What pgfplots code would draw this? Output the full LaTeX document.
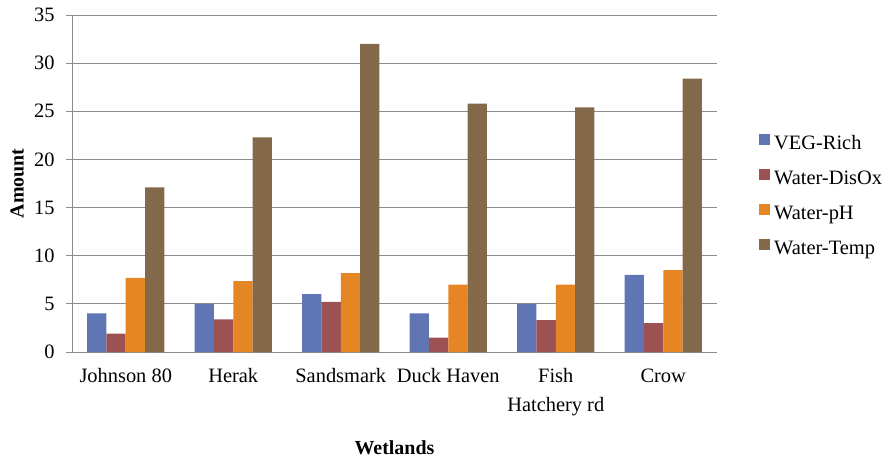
\documentclass[border=0pt]{standalone}
\usepackage{pgfplots}
\pgfplotsset{compat=1.18}
\usepackage{fontspec}
\setmainfont{Liberation Serif}
\definecolor{cveg}{HTML}{6076B4}
\definecolor{cdis}{HTML}{9C5252}
\definecolor{cph}{HTML}{E68523}
\definecolor{ctemp}{HTML}{84684A}
\definecolor{gridc}{RGB}{140,140,140}
\begin{document}
\begin{tikzpicture}
\useasboundingbox (-72bp,-109bp) rectangle (812bp,352bp);
\begin{axis}[
  at={(0,0)}, anchor=south west,
  scale only axis, width=645bp, height=337bp,
  ybar=0pt, bar width=0.18,
  xmin=-0.5, xmax=5.5, ymin=0, ymax=35,
  ytick={0,5,...,35},
  xtick={0,1,2,3,4,5},
  xticklabels={Johnson 80,Herak,Sandsmark,Duck Haven,{Fish\\Hatchery rd},Crow},
  x tick label style={align=center, font=\fontsize{20.5}{29}\selectfont, text depth=4bp, yshift=-7bp},
  y tick label style={font=\fontsize{20.5}{22}\selectfont, xshift=-8bp},
  /pgf/number format/assume math mode=true,
  major x tick style={draw=none},
  extra x ticks={-0.5,0.5,1.5,2.5,3.5,4.5,5.5},
  extra x tick labels={},
  extra x tick style={major tick length=6bp, tick style={gridc, line width=0.8pt}, grid=none},
  tick align=outside,
  major tick length=6bp,
  xtick pos=bottom, ytick pos=left,
  ymajorgrids, grid style={gridc, line width=0.8pt},
  y tick style={gridc, line width=0.8pt},
  axis x line*=bottom, axis y line*=left,
  axis line style={gridc, line width=0.8pt},
  ylabel={\bfseries Amount},
  xlabel={\bfseries Wetlands},
  label style={font=\fontsize{20}{22}\selectfont},
  ylabel style={at={(axis description cs:-0.085,0.5)}, anchor=center, rotate=0},
  xlabel style={at={(axis description cs:0.5,-0.285)}, anchor=center},
  legend style={at={(1.065,0.462)}, anchor=west, draw=none, inner sep=0pt,
    font=\fontsize{20.5}{22}\selectfont, row sep=16bp,
    nodes={inner sep=0pt, text height=14bp, text depth=4bp}},
  legend cell align=left,
  /tikz/every odd column/.style={column sep=4bp},
  legend image code/.code={\fill[#1,draw=none] (0bp,-1bp) rectangle (11bp,10bp);},
  every axis plot/.append style={draw=none},
]
\addplot[fill=cveg] coordinates {(0,4) (1,5) (2,6) (3,4) (4,5) (5,8)};
\addplot[fill=cdis] coordinates {(0,1.9) (1,3.4) (2,5.2) (3,1.5) (4,3.3) (5,3)};
\addplot[fill=cph] coordinates {(0,7.7) (1,7.35) (2,8.2) (3,7) (4,7) (5,8.5)};
\addplot[fill=ctemp] coordinates {(0,17.1) (1,22.3) (2,32) (3,25.8) (4,25.4) (5,28.4)};
\legend{VEG-Rich,Water-DisOx,Water-pH,Water-Temp}
\end{axis}
\end{tikzpicture}
\end{document}
